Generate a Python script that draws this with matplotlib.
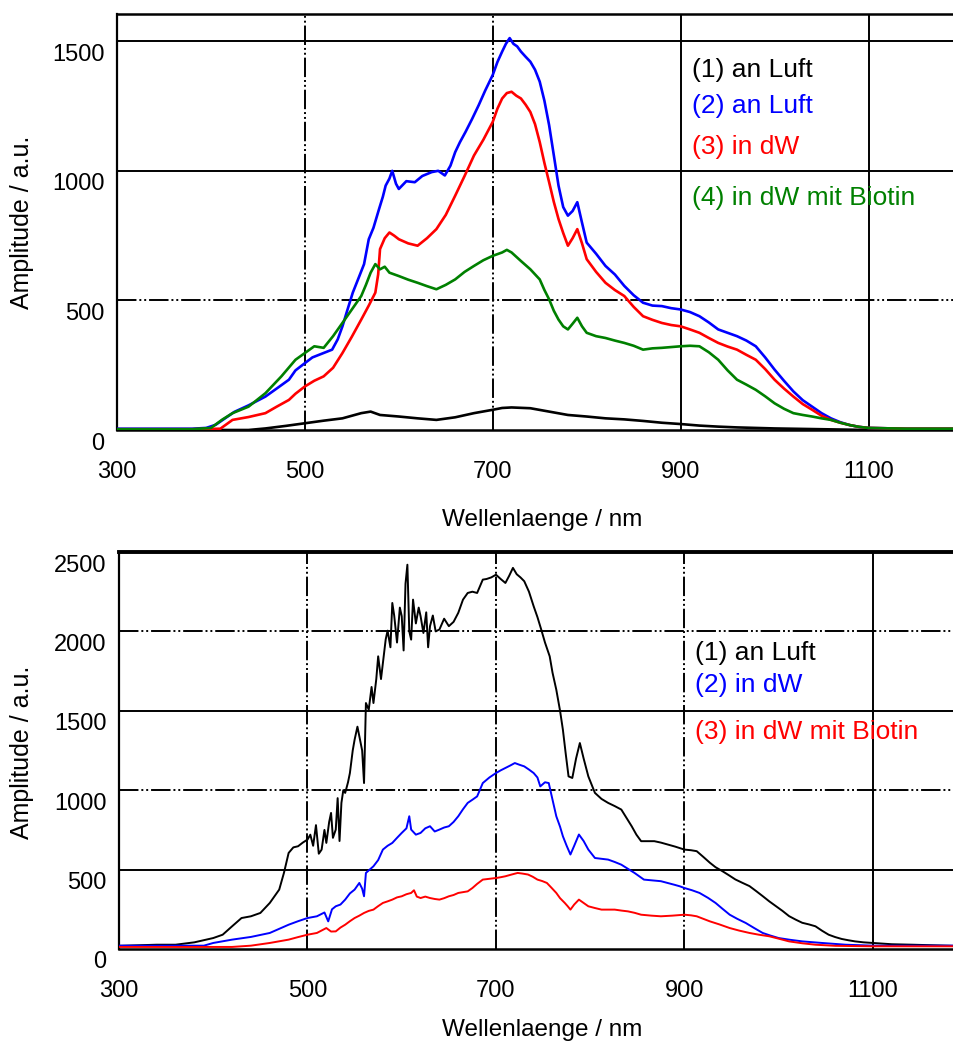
import matplotlib
matplotlib.use("Agg")
import matplotlib.pyplot as plt
from matplotlib.transforms import ScaledTranslation

plt.rcParams['font.family'] = ['Liberation Sans', 'DejaVu Sans']

# ---------------- data: top panel ----------------
top_labels = ["(1) an Luft", "(2) an Luft", "(3) in dW", "(4) in dW mit Biotin"]
top_colors = ["black", "#0000ff", "#ff0000", "#008000"]

t1_wl = [300, 440, 458, 480, 500, 520, 540, 560, 570, 580, 600, 620, 640, 660, 680, 700, 710, 720,
         740, 760, 780, 800, 820, 840, 860, 880, 900, 920, 940, 960, 980, 1000, 1050, 1100, 1191]
t1_amp = [0, 0, 6, 16, 26, 36, 45, 65, 71, 58, 52, 45, 39, 49, 65, 78, 85, 87,
          84, 71, 58, 52, 45, 41, 35, 28, 23, 17, 13, 10, 8, 6, 3, 0, 0]

t2_wl = [300, 340, 380, 395, 405, 415, 425, 440, 458, 470, 483, 490, 500, 508, 515, 522, 529, 535, 540,
         545, 551, 558, 563, 568, 573, 579, 583, 586, 590, 593, 597, 600, 608, 617, 625, 635, 642, 649,
         655, 660, 665, 671, 678, 685, 692, 700, 705, 710, 714, 718, 722, 726, 730, 735, 740, 745, 750,
         755, 760, 765, 770, 775, 780, 785, 790, 795, 800, 810, 820, 830, 840, 850, 860, 870, 880, 890,
         900, 910, 920, 930, 940, 950, 960, 970, 980, 990, 1000, 1010, 1020, 1030, 1040, 1050, 1060,
         1070, 1080, 1090, 1100, 1140, 1191]
t2_amp = [5, 5, 5, 8, 20, 45, 70, 95, 129, 160, 194, 230, 258, 280, 290, 300, 310, 350, 400,
          460, 530, 594, 640, 736, 780, 853, 900, 943, 970, 1000, 950, 930, 960, 956, 980, 995, 1000, 982,
          1020, 1072, 1110, 1150, 1200, 1253, 1310, 1370, 1420, 1460, 1490, 1512, 1490, 1480, 1460, 1440,
          1421, 1390, 1344, 1270, 1176, 1060, 943, 860, 827, 845, 879, 800, 723, 680, 633, 600, 556, 520,
          491, 480, 478, 470, 465, 455, 439, 415, 388, 375, 362, 345, 323, 280, 233, 190, 149, 115, 90,
          65, 45, 30, 19, 12, 8, 5, 5]

t3_wl = [300, 380, 410, 423, 440, 458, 470, 483, 490, 500, 510, 520, 530, 540, 550, 560, 568, 575, 578,
         580, 585, 590, 595, 600, 610, 620, 630, 640, 650, 660, 670, 680, 690, 700, 705, 710, 715, 720,
         725, 730, 735, 740, 745, 750, 755, 760, 765, 770, 775, 780, 785, 790, 795, 800, 810, 820, 830,
         840, 850, 860, 870, 880, 890, 900, 910, 920, 930, 940, 950, 960, 970, 980, 990, 1000, 1010,
         1020, 1030, 1040, 1050, 1060, 1070, 1080, 1090, 1100, 1140, 1191]
t3_amp = [3, 3, 5, 39, 50, 65, 90, 116, 140, 168, 190, 207, 240, 297, 360, 426, 480, 530, 600,
          698, 740, 762, 750, 736, 720, 711, 740, 775, 830, 904, 980, 1059, 1120, 1189, 1240, 1279, 1300,
          1305, 1290, 1279, 1255, 1227, 1180, 1111, 1030, 956, 880, 814, 760, 711, 740, 775, 720, 659,
          610, 568, 540, 517, 475, 439, 425, 413, 405, 400, 388, 375, 355, 336, 322, 310, 290, 271, 235,
          194, 160, 129, 100, 78, 55, 39, 28, 19, 12, 8, 5, 5]

t4_wl = [300, 380, 400, 412, 423, 440, 458, 475, 490, 500, 510, 520, 530, 545, 560, 565, 570, 575, 580,
         585, 590, 600, 610, 620, 630, 640, 650, 660, 670, 680, 690, 700, 710, 715, 720, 730, 740, 750,
         755, 760, 765, 770, 775, 780, 785, 790, 795, 800, 810, 820, 830, 840, 850, 860, 870, 880, 890,
         900, 910, 920, 930, 940, 950, 960, 970, 980, 990, 1000, 1010, 1020, 1030, 1040, 1050, 1060,
         1070, 1080, 1090, 1100, 1140, 1191]
t4_amp = [3, 3, 8, 40, 65, 90, 142, 207, 271, 297, 323, 317, 362, 439, 517, 560, 607, 640, 620,
          630, 607, 594, 580, 568, 555, 543, 560, 581, 610, 633, 655, 672, 685, 695, 685, 652, 620, 581,
          540, 504, 460, 426, 400, 388, 410, 433, 400, 375, 362, 355, 345, 336, 325, 310, 315, 317, 320,
          323, 325, 323, 300, 271, 230, 194, 175, 155, 130, 103, 82, 65, 58, 52, 45, 39,
          28, 19, 12, 8, 5, 5]

# ---------------- data: bottom panel ----------------
bot_labels = ["(1) an Luft", "(2) in dW", "(3) in dW mit Biotin"]
bot_colors = ["black", "#0000ff", "#ff0000"]

b1_wl = [300, 340, 360, 380, 400, 410, 420, 430, 440, 450, 460, 470, 475, 480, 485, 490, 495, 500, 503,
         506, 509, 512, 515, 518, 520, 523, 525, 527, 530, 532, 534, 536, 538, 540, 543, 545, 548, 550,
         553, 555, 558, 560, 562, 565, 568, 570, 573, 575, 578, 580, 583, 585, 588, 590, 592, 595, 598,
         600, 602, 604, 606, 608, 610, 612, 615, 618, 620, 623, 626, 628, 630, 633, 636, 640, 645, 650,
         655, 660, 665, 670, 675, 680, 686, 690, 695, 700, 705, 710, 714, 718, 722, 726, 730, 735, 740,
         744, 748, 752, 757, 760, 764, 768, 771, 774, 777, 781, 785, 789, 793, 798, 805, 812, 819, 826,
         833, 838, 844, 849, 854, 861, 868, 875, 882, 890, 900, 907, 913, 920, 927, 933, 940, 947, 954,
         961, 969, 976, 983, 990, 997, 1004, 1011, 1018, 1025, 1032, 1039, 1046, 1053, 1060, 1067, 1074,
         1081, 1090, 1100, 1120, 1142, 1186]
b1_amp = [20, 27, 27, 42, 69, 90, 143, 195, 206, 227, 290, 374, 479, 605, 640, 647, 670, 689, 720,
          650, 780, 600, 626, 750, 668, 800, 857, 700, 752, 950, 680, 920, 1000, 983, 1050, 1108, 1250, 1318,
          1400, 1339, 1250, 1045, 1549, 1507, 1650, 1549, 1700, 1843, 1700, 1801, 1950, 2005, 1900, 2179, 2100,
          1930, 2150, 2096, 1880, 2300, 2420, 2000, 1948, 2200, 2050, 2150, 2096, 1990, 2120, 1900, 2033,
          2100, 2000, 2012, 2080, 2033, 2060, 2117, 2200, 2242, 2250, 2242, 2326, 2330, 2340, 2357, 2330,
          2305, 2350, 2400, 2360, 2340, 2316, 2250, 2158, 2090, 2012, 1930, 1843, 1740, 1633, 1500, 1381,
          1230, 1087, 1077, 1200, 1297, 1200, 1087, 983, 945, 920, 900, 878, 830, 773, 720, 679, 679, 679,
          670, 658, 645, 626, 622, 616, 580, 543, 515, 491, 465, 438, 418, 396, 365, 333, 300, 270, 240,
          207, 185, 165, 155, 143, 115, 90, 75, 63, 55, 48, 42, 38, 30, 27, 20]

b2_wl = [300, 390, 400, 420, 440, 460, 480, 490, 500, 510, 518, 522, 526, 530, 535, 540, 545, 550, 555,
         558, 560, 562, 566, 570, 575, 580, 585, 590, 595, 600, 605, 608, 610, 615, 620, 625, 630, 635,
         640, 645, 650, 655, 660, 665, 670, 675, 680, 686, 693, 700, 705, 710, 715, 720, 725, 730, 735,
         740, 744, 747, 752, 756, 760, 764, 768, 771, 775, 779, 783, 788, 793, 798, 805, 812, 819, 826,
         833, 840, 847, 852, 857, 866, 875, 882, 889, 895, 900, 908, 916, 925, 933, 940, 948, 956, 965,
         974, 983, 991, 1000, 1012, 1025, 1046, 1071, 1100, 1186]
b2_amp = [21, 21, 38, 59, 76, 101, 153, 175, 195, 206, 230, 174, 250, 269, 280, 311, 350, 374, 416,
          380, 332, 479, 500, 521, 560, 626, 650, 668, 700, 731, 760, 836, 752, 720, 731, 760, 773, 740,
          752, 765, 773, 800, 836, 880, 920, 940, 961, 1045, 1080, 1108, 1125, 1140, 1155, 1171, 1160, 1150,
          1130, 1108, 1080, 1024, 1050, 1045, 940, 836, 770, 710, 650, 595, 650, 721, 680, 626, 573, 568,
          563, 548, 531, 505, 479, 458, 437, 432, 427, 416, 405, 395, 384, 370, 353, 322, 290, 255, 216,
          190, 164, 132, 101, 85, 69, 58, 48, 38, 27, 21, 21]

b3_wl = [300, 420, 440, 460, 480, 490, 500, 510, 520, 525, 530, 535, 540, 545, 550, 555, 560, 565, 570,
         575, 580, 585, 590, 595, 600, 605, 610, 613, 616, 620, 625, 630, 635, 640, 645, 650, 655, 660,
         665, 670, 675, 680, 686, 693, 700, 705, 710, 716, 723, 728, 734, 739, 744, 749, 754, 759, 764,
         768, 773, 776, 779, 783, 788, 793, 798, 805, 812, 819, 826, 833, 840, 847, 854, 865, 875, 887,
         900, 907, 913, 920, 927, 937, 948, 958, 969, 979, 990, 1000, 1011, 1025, 1039, 1060, 1100, 1186]
b3_amp = [13, 13, 21, 38, 59, 75, 90, 101, 132, 110, 111, 135, 153, 175, 195, 210, 227, 240, 248,
          270, 290, 300, 311, 325, 332, 345, 353, 370, 330, 321, 330, 321, 315, 311, 320, 332, 340, 353,
          358, 363, 384, 410, 437, 442, 447, 452, 458, 468, 479, 475, 469, 455, 437, 428, 416, 385, 353,
          320, 290, 270, 248, 280, 311, 290, 269, 258, 248, 248, 248, 242, 237, 228, 216, 210, 206, 210,
          216, 212, 206, 190, 174, 155, 132, 116, 101, 90, 80, 65, 48, 36, 27, 20, 17, 17]

top_series = [(t1_wl, t1_amp), (t2_wl, t2_amp), (t3_wl, t3_amp), (t4_wl, t4_amp)]
bot_series = [(b1_wl, b1_amp), (b2_wl, b2_amp), (b3_wl, b3_amp)]

x_ticks = [300, 500, 700, 900, 1100]

# ---------------- figure ----------------
W, H = 954, 1046
fig = plt.figure(figsize=(W / 100, H / 100), dpi=100)


def px_axes(left, top, right, bottom):
    return fig.add_axes([left / W, 1 - bottom / H, (right - left) / W, (bottom - top) / H])


DASHDOT = (0, (10, 1.5, 1, 1.5, 1, 1.5))


def style_axes(ax, xlim, ylim, yticks, hsolid, vsolid, top_lw):
    ax.set_xlim(*xlim)
    ax.set_ylim(*ylim)
    ax.set_xticks(x_ticks)
    ax.set_yticks(yticks)
    ax.tick_params(length=0, labelsize=17)
    ax.tick_params(axis='x', pad=22)
    ax.tick_params(axis='y', pad=9)
    off = ScaledTranslation(0, -11 / 100, fig.dpi_scale_trans)
    for lab in ax.get_yticklabels():
        lab.set_transform(lab.get_transform() + off)
    for yv in yticks[1:]:
        ax.axhline(yv, color='black', lw=1.4,
                   linestyle='-' if yv in hsolid else DASHDOT, zorder=1)
    for xv in x_ticks[1:]:
        ax.axvline(xv, color='black', lw=1.4,
                   linestyle='-' if xv in vsolid else DASHDOT, zorder=1)
    ax.spines['right'].set_visible(False)
    ax.spines['left'].set_linewidth(1.6)
    ax.spines['bottom'].set_linewidth(1.8)
    ax.spines['top'].set_linewidth(top_lw)


# top panel
ax1 = px_axes(117, 14, 954, 430)
style_axes(ax1, (300, 1191), (0, 1605), [0, 500, 1000, 1500], [1000, 1500], [900, 1100], 1.8)
for (wl, amp), c in zip(top_series, top_colors):
    ax1.plot(wl, amp, color=c, lw=1.9, zorder=3)

# bottom panel
ax2 = px_axes(119, 552, 954, 949)
style_axes(ax2, (300, 1186), (0, 2500), [0, 500, 1000, 1500, 2000, 2500], [500, 1500], [1100], 2.8)
for (wl, amp), c in zip(bot_series, bot_colors):
    ax2.plot(wl, amp, color=c, lw=1.4, zorder=3)

# axis labels
for yc in (520, 1030):
    fig.text(542 / W, 1 - yc / H, "Wellenlaenge / nm", ha='center', va='center', fontsize=17.5)
for yc in (222, 752):
    fig.text(22 / W, 1 - yc / H, "Amplitude / a.u.", ha='center', va='center',
             rotation=90, fontsize=18)

# legend texts
for lab, c, yc in zip(top_labels, top_colors, [70, 106, 147, 198]):
    fig.text(692 / W, 1 - yc / H, lab, color=c, ha='left', va='center', fontsize=19)
for lab, c, yc in zip(bot_labels, bot_colors, [653, 685, 732]):
    fig.text(695 / W, 1 - yc / H, lab, color=c, ha='left', va='center', fontsize=19)

fig.savefig("out.png", dpi=100)
